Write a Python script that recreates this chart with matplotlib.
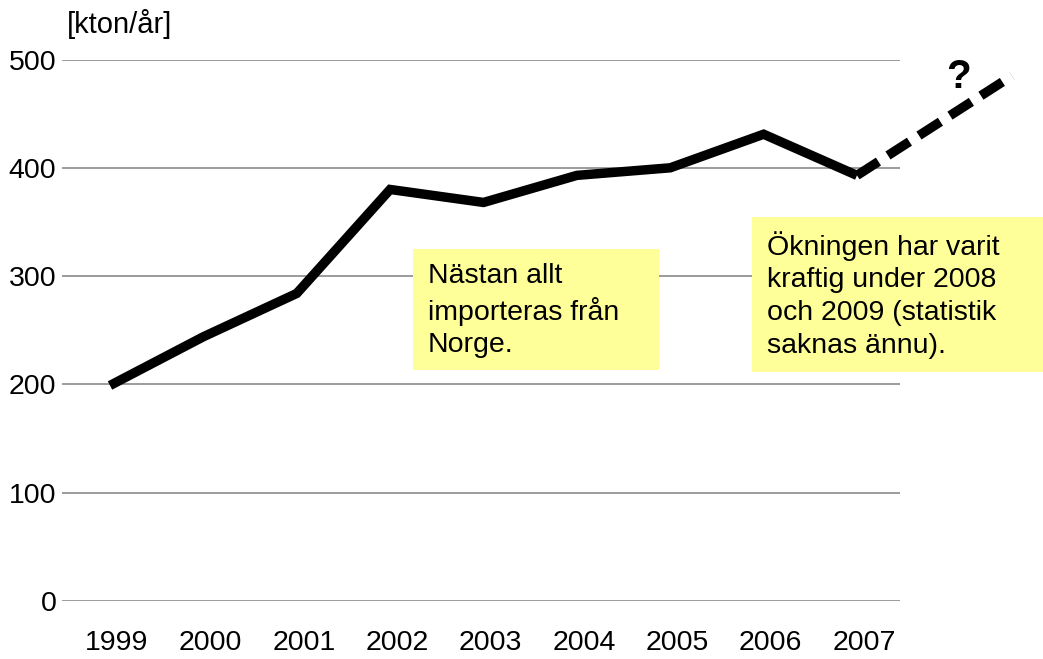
import matplotlib
matplotlib.use("Agg")
import matplotlib.pyplot as plt
from matplotlib.patches import Rectangle
from matplotlib.transforms import ScaledTranslation

# import av el, kton per år
years = [1999, 2000, 2001, 2002, 2003, 2004, 2005, 2006, 2007]
imports = [199, 244, 284, 380, 368, 393, 400, 431, 393]

# streckad gissning efter 2007
guess_x = [2007, 2008.66]
guess_y = [393, 485]

yticks = [0, 100, 200, 300, 400, 500]
unit = "[kton/år]"
note1 = "Nästan allt\nimporteras från\nNorge."
note2 = "Ökningen har varit\nkraftig under 2008\noch 2009 (statistik\nsaknas ännu)."

plt.rcParams['font.family'] = ['Liberation Sans', 'DejaVu Sans']

W, H = 1043, 659
fig = plt.figure(figsize=(W/100, H/100), dpi=100)
ax = fig.add_axes([62/W, 1-601/H, (900-62)/W, (601-59.5)/H])

step = (857-110)/8.0
ax.set_xlim(1999-48/step, 1999+790/step)
ax.set_ylim(0, 500)

for s in ax.spines.values():
    s.set_visible(False)
ax.set_yticks(yticks)
ax.set_xticks(years)
ax.tick_params(length=0, labelsize=20.5)
ax.tick_params(axis='y', pad=4)
ax.tick_params(axis='x', pad=21)
ax.grid(axis='y', color='#8a8a8a', linewidth=1.2)
ax.set_axisbelow(True)

off = ScaledTranslation(7/100, 0, fig.dpi_scale_trans)
for lab in ax.get_xticklabels():
    lab.set_transform(lab.get_transform() + off)

ax.plot(years, imports, color='black', linewidth=6.8,
        solid_capstyle='butt', solid_joinstyle='miter', zorder=3)
ax.plot(guess_x, guess_y, color='black', linewidth=6.8, dashes=(2.7, 1.2),
        dash_capstyle='butt', clip_on=False, zorder=3)

fig.text(959/W, 1-58/H, "?", fontsize=29, fontweight='bold',
         ha='center', va='top')
fig.text(67/W, 1-9/H, unit, fontsize=21, ha='left', va='top')

fig.patches.append(Rectangle((413/W, 1-370/H), (659-413)/W, (370-249)/H,
                             transform=fig.transFigure, facecolor='#ffff99',
                             edgecolor='none', zorder=4))
fig.patches.append(Rectangle((752/W, 1-372/H), (1043-752)/W, (372-217)/H,
                             transform=fig.transFigure, facecolor='#ffff99',
                             edgecolor='none', zorder=4))
fig.text(428/W, 1-263/H, note1, fontsize=20.5, linespacing=1.33,
         ha='left', va='top', zorder=5)
fig.text(767/W, 1-231/H, note2, fontsize=20.5, linespacing=1.33,
         ha='left', va='top', zorder=5)

fig.savefig("out.png", dpi=100)
